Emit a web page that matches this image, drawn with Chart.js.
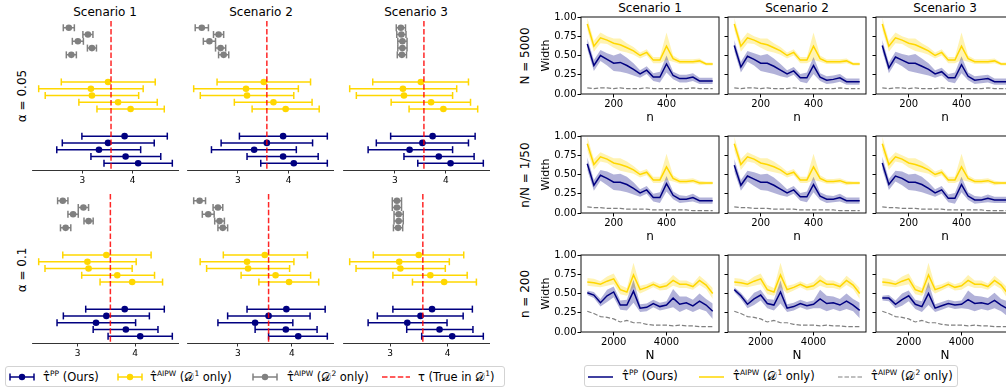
<!DOCTYPE html>
<html>
<head>
<meta charset="utf-8">
<script src="https://cdn.jsdelivr.net/npm/chart.js@4.4.1/dist/chart.umd.min.js"></script>
<style>
  html, body { margin: 0; overflow: hidden; }
  body { width: 1006px; height: 392px; position: relative; background: #fff; font-family: "DejaVu Sans", sans-serif; color: #000; }
  canvas { position: absolute; }
  .lbl { position: absolute; white-space: nowrap; transform: translate(-50%, -50%); font-size: 12px; line-height: 1; }
  .rot { transform: translate(-50%, -50%) rotate(-90deg); }
  .box { position: absolute; box-sizing: border-box; border: 1px solid #d3d3d3; border-radius: 3px; background: #fff; }
  .item { position: absolute; transform: translateY(-50%); font-size: 11.5px; white-space: nowrap; line-height: 1; }
  .item sup { font-size: 7.5px; vertical-align: 5px; }
  svg { position: absolute; }
</style>
</head>
<body>
<!-- left block titles -->
<div class="lbl" style="left:105px;top:12px">Scenario 1</div>
<div class="lbl" style="left:261px;top:12px">Scenario 2</div>
<div class="lbl" style="left:416px;top:12px">Scenario 3</div>
<div class="lbl rot" style="left:22px;top:96px">α = 0.05</div>
<div class="lbl rot" style="left:22px;top:270px">α = 0.1</div>

<!-- right block titles -->
<div class="lbl" style="left:650px;top:8px">Scenario 1</div>
<div class="lbl" style="left:797px;top:8px">Scenario 2</div>
<div class="lbl" style="left:945px;top:8px">Scenario 3</div>
<div class="lbl rot" style="left:525px;top:56px">N = 5000</div>
<div class="lbl rot" style="left:525px;top:175px">n/N = 1/50</div>
<div class="lbl rot" style="left:525px;top:294px">n = 200</div>

<!-- left legend -->
<div class="box" style="left:5px;top:366px;width:500px;height:21px"></div>
<svg style="left:9px;top:372px" width="26" height="10"><line x1="1" y1="5" x2="25" y2="5" stroke="#000080" stroke-width="1.5"/><line x1="1" y1="1.5" x2="1" y2="8.5" stroke="#000080" stroke-width="1.5"/><line x1="25" y1="1.5" x2="25" y2="8.5" stroke="#000080" stroke-width="1.5"/><circle cx="13" cy="5" r="3.2" fill="#000080"/></svg>
<div class="item" style="left:43px;top:377px">τ̂<sup>PP</sup> (Ours)</div>
<svg style="left:117px;top:372px" width="26" height="10"><line x1="1" y1="5" x2="25" y2="5" stroke="#ffd700" stroke-width="1.5"/><line x1="1" y1="1.5" x2="1" y2="8.5" stroke="#ffd700" stroke-width="1.5"/><line x1="25" y1="1.5" x2="25" y2="8.5" stroke="#ffd700" stroke-width="1.5"/><circle cx="13" cy="5" r="3.2" fill="#ffd700"/></svg>
<div class="item" style="left:150px;top:377px">τ̂<sup>AIPW</sup> (𝒟<sup>1</sup> only)</div>
<svg style="left:252px;top:372px" width="26" height="10"><line x1="1" y1="5" x2="25" y2="5" stroke="#808080" stroke-width="1.5"/><line x1="1" y1="1.5" x2="1" y2="8.5" stroke="#808080" stroke-width="1.5"/><line x1="25" y1="1.5" x2="25" y2="8.5" stroke="#808080" stroke-width="1.5"/><circle cx="13" cy="5" r="3.2" fill="#808080"/></svg>
<div class="item" style="left:287px;top:377px">τ̂<sup>AIPW</sup> (𝒟<sup>2</sup> only)</div>
<svg style="left:381px;top:372px" width="30" height="10"><line x1="1" y1="5" x2="29" y2="5" stroke="rgba(255,0,0,0.85)" stroke-width="1.5" stroke-dasharray="5.5 2.4"/></svg>
<div class="item" style="left:418px;top:377px">τ (True in 𝒟<sup>1</sup>)</div>

<!-- right legend -->
<div class="box" style="left:584px;top:365px;width:374px;height:22px"></div>
<svg style="left:588px;top:372px" width="25" height="10"><line x1="0" y1="5" x2="25" y2="5" stroke="#000080" stroke-width="1.5"/></svg>
<div class="item" style="left:622px;top:376px">τ̂<sup>PP</sup> (Ours)</div>
<svg style="left:699px;top:372px" width="25" height="10"><line x1="0" y1="5" x2="25" y2="5" stroke="#ffd700" stroke-width="1.5"/></svg>
<div class="item" style="left:733px;top:376px">τ̂<sup>AIPW</sup> (𝒟<sup>1</sup> only)</div>
<svg style="left:838px;top:372px" width="25" height="10"><line x1="0" y1="5" x2="25" y2="5" stroke="#808080" stroke-width="1.2" stroke-dasharray="4.5 2"/></svg>
<div class="item" style="left:871px;top:376px">τ̂<sup>AIPW</sup> (𝒟<sup>2</sup> only)</div>

<script>
// ---- left: interval estimates, [estimate, lower, upper], one list per scenario, rows top to bottom
const forestTicks = [3, 4];
const tauTrue = 3.57;

const aipw2A05 = [
  [[2.73, 2.62, 2.84], [3.11, 3.01, 3.21], [2.91, 2.80, 3.02], [3.19, 3.10, 3.28], [2.78, 2.68, 2.88]],
  [[2.29, 2.16, 2.42], [2.62, 2.52, 2.72], [2.44, 2.32, 2.56], [2.66, 2.56, 2.76], [2.72, 2.62, 2.82]],
  [[3.12, 3.03, 3.21], [3.13, 3.04, 3.22], [3.15, 3.06, 3.24], [3.15, 3.06, 3.24], [3.14, 3.05, 3.23]]
];
const aipw1A05 = [
  [[3.51, 2.58, 4.45], [3.17, 2.13, 4.21], [3.19, 2.26, 4.12], [3.71, 2.93, 4.49], [3.96, 3.29, 4.63]],
  [[3.51, 2.59, 4.43], [3.16, 2.13, 4.19], [3.18, 2.26, 4.10], [3.70, 2.93, 4.46], [3.94, 3.28, 4.60]],
  [[3.51, 2.57, 4.44], [3.16, 2.12, 4.21], [3.18, 2.25, 4.13], [3.71, 2.93, 4.48], [3.95, 3.28, 4.62]]
];
const ppA05 = [
  [[3.84, 2.99, 4.69], [3.51, 2.60, 4.43], [3.33, 2.49, 4.16], [3.86, 3.17, 4.56], [4.11, 3.43, 4.79]],
  [[3.89, 3.03, 4.76], [3.57, 2.67, 4.47], [3.32, 2.48, 4.15], [3.89, 3.18, 4.58], [4.10, 3.45, 4.76]],
  [[3.74, 2.92, 4.57], [3.54, 2.64, 4.44], [3.29, 2.48, 4.13], [3.86, 3.18, 4.55], [4.09, 3.45, 4.73]]
];
const aipw2A10 = [
  [[2.74, 2.65, 2.83], [3.10, 3.01, 3.19], [2.92, 2.83, 3.01], [3.19, 3.11, 3.27], [2.79, 2.70, 2.88]],
  [[2.29, 2.18, 2.40], [2.63, 2.54, 2.72], [2.45, 2.34, 2.56], [2.66, 2.57, 2.75], [2.72, 2.63, 2.81]],
  [[3.12, 3.04, 3.20], [3.12, 3.04, 3.20], [3.15, 3.07, 3.23], [3.15, 3.07, 3.23], [3.14, 3.06, 3.22]]
];
const aipw1A10 = [
  [[3.50, 2.74, 4.28], [3.17, 2.32, 4.02], [3.19, 2.43, 3.95], [3.69, 3.07, 4.34], [3.95, 3.39, 4.48]],
  [[3.50, 2.73, 4.29], [3.17, 2.30, 4.04], [3.19, 2.42, 3.96], [3.70, 3.06, 4.35], [3.95, 3.39, 4.50]],
  [[3.50, 2.71, 4.28], [3.16, 2.30, 4.03], [3.18, 2.41, 3.96], [3.70, 3.05, 4.34], [3.94, 3.39, 4.50]]
];
const ppA10 = [
  [[3.82, 3.14, 4.51], [3.50, 2.75, 4.25], [3.32, 2.64, 4.01], [3.84, 3.27, 4.40], [4.09, 3.53, 4.65]],
  [[3.90, 3.17, 4.62], [3.57, 2.81, 4.34], [3.32, 2.63, 4.02], [3.89, 3.32, 4.47], [4.12, 3.57, 4.66]],
  [[3.73, 3.05, 4.43], [3.53, 2.78, 4.27], [3.30, 2.62, 3.99], [3.86, 3.29, 4.44], [4.08, 3.55, 4.62]]
];

// ---- right: interval widths
const nVals = [100, 125, 150, 175, 200, 225, 250, 275, 300, 325, 350, 375, 400, 425, 450, 475, 500, 525, 550, 575];
const bigNVals = [1000, 1250, 1500, 1750, 2000, 2250, 2500, 2750, 3000, 3250, 3500, 3750, 4000, 4250, 4500, 4750, 5000, 5250, 5500, 5750];
const nTicks = [200, 400];
const bigNTicks = [2000, 4000];
const widthTicks = [0, 0.25, 0.5, 0.75, 1.0];

// row 1: N = 5000
const yelR1 = [0.91, 0.62, 0.73, 0.70, 0.66, 0.64, 0.60, 0.56, 0.50, 0.54, 0.44, 0.44, 0.62, 0.46, 0.42, 0.42, 0.42, 0.43, 0.39, 0.39];
const yelR1Band = [0.08, 0.07, 0.07, 0.05, 0.06, 0.08, 0.06, 0.05, 0.04, 0.04, 0.04, 0.04, 0.18, 0.04, 0.03, 0.03, 0.03, 0.03, 0.02, 0.02];
const navyR1 = [
  [0.65, 0.37, 0.50, 0.45, 0.40, 0.41, 0.37, 0.32, 0.26, 0.31, 0.22, 0.22, 0.39, 0.24, 0.20, 0.20, 0.22, 0.17, 0.17, 0.17],
  [0.63, 0.35, 0.49, 0.45, 0.40, 0.40, 0.36, 0.31, 0.26, 0.30, 0.21, 0.21, 0.37, 0.22, 0.18, 0.19, 0.21, 0.16, 0.16, 0.16],
  [0.63, 0.34, 0.48, 0.44, 0.40, 0.40, 0.36, 0.32, 0.26, 0.29, 0.21, 0.21, 0.38, 0.23, 0.18, 0.19, 0.20, 0.16, 0.16, 0.16]
];
const navyR1Band = [0.07, 0.07, 0.07, 0.08, 0.10, 0.12, 0.10, 0.08, 0.05, 0.05, 0.05, 0.07, 0.11, 0.05, 0.05, 0.05, 0.05, 0.04, 0.04, 0.04];
const grayR1 = [0.08, 0.07, 0.08, 0.08, 0.07, 0.08, 0.07, 0.07, 0.07, 0.08, 0.07, 0.07, 0.07, 0.07, 0.07, 0.07, 0.08, 0.07, 0.07, 0.07];

// row 2: n/N = 1/50
const yelR2 = [0.90, 0.63, 0.73, 0.70, 0.65, 0.63, 0.60, 0.56, 0.50, 0.53, 0.43, 0.43, 0.60, 0.45, 0.41, 0.41, 0.42, 0.39, 0.39, 0.39];
const yelR2Band = [0.09, 0.07, 0.06, 0.05, 0.06, 0.08, 0.07, 0.05, 0.04, 0.04, 0.04, 0.04, 0.17, 0.04, 0.03, 0.03, 0.03, 0.03, 0.02, 0.02];
const navyR2 = [
  [0.64, 0.36, 0.49, 0.45, 0.40, 0.40, 0.37, 0.32, 0.26, 0.30, 0.20, 0.20, 0.38, 0.23, 0.18, 0.18, 0.20, 0.16, 0.16, 0.16],
  [0.62, 0.36, 0.48, 0.44, 0.40, 0.40, 0.36, 0.31, 0.26, 0.30, 0.21, 0.21, 0.37, 0.22, 0.18, 0.18, 0.20, 0.16, 0.16, 0.16],
  [0.65, 0.37, 0.48, 0.45, 0.40, 0.40, 0.37, 0.32, 0.26, 0.30, 0.19, 0.19, 0.37, 0.22, 0.17, 0.17, 0.19, 0.17, 0.17, 0.17]
];
const navyR2Band = [0.08, 0.07, 0.07, 0.09, 0.10, 0.11, 0.10, 0.08, 0.05, 0.05, 0.05, 0.07, 0.10, 0.05, 0.05, 0.04, 0.05, 0.04, 0.04, 0.04];
const grayR2 = [0.08, 0.07, 0.07, 0.06, 0.06, 0.06, 0.05, 0.05, 0.05, 0.05, 0.04, 0.04, 0.04, 0.04, 0.04, 0.04, 0.03, 0.03, 0.03, 0.03];

// row 3: n = 200
const yelR3 = [0.65, 0.64, 0.62, 0.66, 0.69, 0.55, 0.52, 0.74, 0.55, 0.58, 0.62, 0.58, 0.60, 0.67, 0.62, 0.62, 0.59, 0.67, 0.61, 0.50];
const yelR3Band = [0.05, 0.05, 0.04, 0.06, 0.07, 0.06, 0.05, 0.16, 0.05, 0.04, 0.04, 0.04, 0.05, 0.07, 0.05, 0.05, 0.04, 0.06, 0.05, 0.07];
const navyR3 = [
  [0.51, 0.48, 0.38, 0.47, 0.52, 0.35, 0.35, 0.53, 0.31, 0.32, 0.37, 0.33, 0.35, 0.44, 0.36, 0.38, 0.34, 0.40, 0.35, 0.27],
  [0.55, 0.47, 0.36, 0.43, 0.48, 0.37, 0.35, 0.52, 0.31, 0.33, 0.37, 0.34, 0.36, 0.43, 0.37, 0.38, 0.35, 0.40, 0.35, 0.28],
  [0.44, 0.44, 0.36, 0.42, 0.47, 0.36, 0.33, 0.50, 0.31, 0.34, 0.37, 0.35, 0.36, 0.42, 0.37, 0.38, 0.36, 0.41, 0.35, 0.30]
];
const navyR3Band = [0.03, 0.04, 0.05, 0.08, 0.07, 0.06, 0.07, 0.15, 0.05, 0.05, 0.05, 0.05, 0.05, 0.12, 0.10, 0.08, 0.08, 0.10, 0.08, 0.10];
const grayR3 = [0.27, 0.24, 0.20, 0.19, 0.17, 0.13, 0.15, 0.12, 0.12, 0.10, 0.09, 0.09, 0.09, 0.08, 0.09, 0.08, 0.08, 0.07, 0.07, 0.07];

const NAVY = '#000080', GOLD = '#ffd700', GRAY = '#808080';
const FONT = 'DejaVu Sans';

function place(left, top, w, h) {
  const c = document.createElement('canvas');
  c.width = w; c.height = h;
  c.style.left = left + 'px';
  c.style.top = top + 'px';
  c.style.width = w + 'px';
  c.style.height = h + 'px';
  document.body.appendChild(c);
  return c;
}

// box around each width panel
const framePlugin = {
  id: 'frame',
  afterDraw(chart) {
    const a = chart.chartArea, ctx = chart.ctx;
    ctx.save();
    ctx.strokeStyle = '#111';
    ctx.lineWidth = 1;
    ctx.strokeRect(a.left, a.top, a.right - a.left, a.bottom - a.top);
    ctx.restore();
  }
};

function forest(left, top, groups) {
  const sets = [{
    data: [{ x: tauTrue, y: -1 }, { x: tauTrue, y: 21 }],
    showLine: true, borderColor: 'rgba(255,0,0,0.85)', borderWidth: 1.5,
    borderDash: [5.5, 2.4], pointRadius: 0
  }];
  const ends = [];
  groups.forEach(([vals, color], g) => {
    const bars = [], dots = [];
    vals.forEach(([est, lo, hi], i) => {
      const y = g * 8 + i;
      bars.push({ x: lo, y: y }, { x: hi, y: y }, { x: null, y: null });
      dots.push({ x: est, y: y });
      ends.push(lo, hi);
    });
    sets.push({ data: dots, pointRadius: 3.3, pointBackgroundColor: color, pointBorderColor: color, pointBorderWidth: 0 });
    sets.push({
      data: bars, showLine: true, spanGaps: false, borderColor: color, borderWidth: 1.5,
      pointStyle: 'line', pointRotation: 90, pointRadius: 3.5,
      pointBorderColor: color, pointBorderWidth: 1.5
    });
  });
  const lo = Math.min(...ends), hi = Math.max(...ends), m = (hi - lo) * 0.05;

  new Chart(place(left, top, 147, 149 + 22), {
    type: 'scatter',
    data: { datasets: sets },
    options: {
      animation: false, responsive: false, events: [],
      layout: { padding: 0, autoPadding: false },
      plugins: { legend: { display: false }, tooltip: { enabled: false } },
      scales: {
        x: {
          type: 'linear', min: lo - m, max: hi + m,
          afterBuildTicks: s => { s.ticks = forestTicks.map(v => ({ value: v })); },
          afterFit: s => { s.height = 22; },
          grid: { drawOnChartArea: false, tickLength: 3.5, color: '#000', lineWidth: 0.8 },
          border: { color: '#000', width: 0.8 },
          ticks: { color: '#000', font: { size: 9, family: FONT }, padding: 2, maxRotation: 0, callback: v => String(v) }
        },
        y: { type: 'linear', reverse: true, min: -1, max: 21, display: false }
      }
    }
  });
}

function widthPanel(left, top, xs, xTicks, xTitle, yel, yelBand, navy, navyBand, gray, first) {
  const pts = arr => arr.map((v, i) => ({ x: xs[i], y: v }));
  const edge = (arr, band, s) => arr.map((v, i) => ({ x: xs[i], y: v + s * band[i] }));
  const none = 'rgba(0,0,0,0)';
  const yW = first ? 45 : 4;
  const m = (xs[xs.length - 1] - xs[0]) * 0.05;

  new Chart(place(left - yW, top - 8, yW + 138 + 6, 8 + 77 + 35), {
    type: 'line',
    data: {
      datasets: [
        { data: pts(navy), borderColor: NAVY, borderWidth: 1.5, pointRadius: 0 },
        { data: pts(yel), borderColor: GOLD, borderWidth: 1.5, pointRadius: 0 },
        { data: pts(gray), borderColor: GRAY, borderWidth: 1.2, borderDash: [4.5, 2], pointRadius: 0 },
        { data: edge(navy, navyBand, -1), borderColor: none, borderWidth: 0, pointRadius: 0, fill: false },
        { data: edge(navy, navyBand, 1), borderColor: none, borderWidth: 0, pointRadius: 0, fill: 3, backgroundColor: 'rgba(0,0,128,0.3)' },
        { data: edge(yel, yelBand, -1), borderColor: none, borderWidth: 0, pointRadius: 0, fill: false },
        { data: edge(yel, yelBand, 1), borderColor: none, borderWidth: 0, pointRadius: 0, fill: 5, backgroundColor: 'rgba(255,215,0,0.3)' }
      ]
    },
    options: {
      animation: false, responsive: false, events: [],
      layout: { padding: { top: 8, right: 6, left: 0, bottom: 0 }, autoPadding: false },
      plugins: { legend: { display: false }, tooltip: { enabled: false } },
      scales: {
        x: {
          type: 'linear', min: xs[0] - m, max: xs[xs.length - 1] + m,
          afterBuildTicks: s => { s.ticks = xTicks.map(v => ({ value: v })); },
          afterFit: s => { s.height = 35; },
          grid: { drawOnChartArea: false, tickLength: 3.5, color: '#000' },
          border: { display: false },
          ticks: { color: '#000', font: { size: 10, family: FONT }, padding: 1, maxRotation: 0, callback: v => String(v) },
          title: { display: true, text: xTitle, color: '#000', font: { size: 12, family: FONT }, padding: { top: 2, bottom: 4 } }
        },
        y: {
          type: 'linear', min: 0, max: 1,
          afterBuildTicks: s => { s.ticks = widthTicks.map(v => ({ value: v })); },
          afterFit: s => { s.width = yW; },
          grid: { drawOnChartArea: false, tickLength: 3.5, color: '#000' },
          border: { display: false },
          ticks: { display: first, color: '#000', font: { size: 10, family: FONT }, padding: 1, callback: v => v.toFixed(2) },
          title: { display: first, text: 'Width', color: '#000', font: { size: 11, family: FONT }, padding: { top: 4, bottom: 0 } }
        }
      }
    },
    plugins: [framePlugin]
  });
}

const forestLefts = [32, 187, 343];
for (let s = 0; s < 3; s++) {
  forest(forestLefts[s], 21, [[aipw2A05[s], GRAY], [aipw1A05[s], GOLD], [ppA05[s], NAVY]]);
  forest(forestLefts[s], 194, [[aipw2A10[s], GRAY], [aipw1A10[s], GOLD], [ppA10[s], NAVY]]);
}

const panelLefts = [581, 728, 876];
for (let s = 0; s < 3; s++) {
  widthPanel(panelLefts[s], 17, nVals, nTicks, 'n', yelR1, yelR1Band, navyR1[s], navyR1Band, grayR1, s === 0);
  widthPanel(panelLefts[s], 136, nVals, nTicks, 'n', yelR2, yelR2Band, navyR2[s], navyR2Band, grayR2, s === 0);
  widthPanel(panelLefts[s], 255, bigNVals, bigNTicks, 'N', yelR3, yelR3Band, navyR3[s], navyR3Band, grayR3, s === 0);
}
</script>
</body>
</html>
